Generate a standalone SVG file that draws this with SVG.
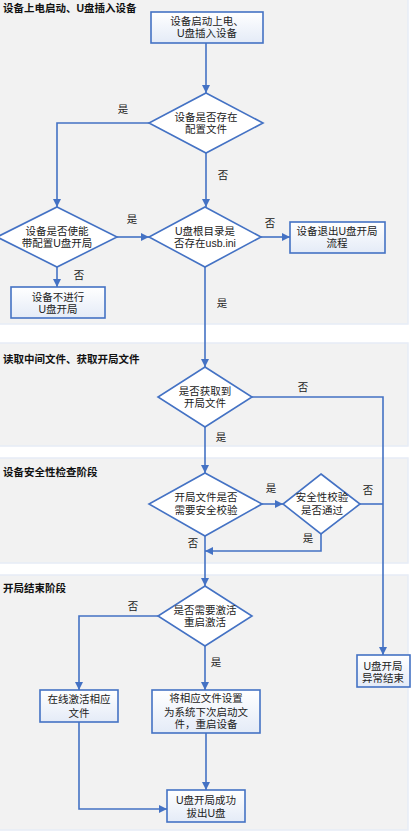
<svg xmlns="http://www.w3.org/2000/svg" width="412" height="832" viewBox="0 0 412 832">
<defs>
<linearGradient id="bf" x1="0" y1="0" x2="0" y2="1">
<stop offset="0" stop-color="#ffffff"/>
<stop offset="1" stop-color="#e4ebf7"/>
</linearGradient>
<marker id="ah" viewBox="0 0 10 10" refX="10" refY="5" markerWidth="8" markerHeight="8" markerUnits="userSpaceOnUse" orient="auto">
<path d="M0,0 L10,5 L0,10 z" fill="#4472c4"/>
</marker>
</defs>
<style>
.band{fill:#f2f2f2;stroke:#e6ecf6;stroke-width:1.5}
.box{fill:url(#bf);stroke:#4472c4;stroke-width:1.6}
.dia{fill:#ffffff;stroke:#4472c4;stroke-width:1.6}
.ln{fill:none;stroke:#4472c4;stroke-width:1.6}
.t{font-family:"Liberation Sans","Noto Sans CJK SC",sans-serif;font-size:10.5px;fill:#222;text-anchor:middle}
.h{font-family:"Liberation Sans","Noto Sans CJK SC",sans-serif;font-size:10.5px;font-weight:bold;fill:#111}
.lb{font-family:"Liberation Sans","Noto Sans CJK SC",sans-serif;font-size:10.5px;fill:#222;text-anchor:middle}
</style>
<rect width="412" height="832" fill="#ffffff"/>
<g id="bands">
<rect class="band" x="-2" y="-2" width="410" height="326"/>
<rect class="band" x="-2" y="343" width="410" height="103"/>
<rect class="band" x="-2" y="458" width="410" height="105"/>
<rect class="band" x="-2" y="575" width="410" height="255"/>
<text class="h" x="3" y="12">设备上电启动、U盘插入设备</text>
<text class="h" x="3" y="363">读取中间文件、获取开局文件</text>
<text class="h" x="3" y="476">设备安全性检查阶段</text>
<text class="h" x="3" y="592">开局结束阶段</text>
</g>
<g id="connectors">
<path class="ln" d="M206,43 V93" marker-end="url(#ah)"/>
<path class="ln" d="M149,123 H57 V207" marker-end="url(#ah)"/>
<path class="ln" d="M206,153 V207" marker-end="url(#ah)"/>
<path class="ln" d="M57,267 V287" marker-end="url(#ah)"/>
<path class="ln" d="M117,237 H149" marker-end="url(#ah)"/>
<path class="ln" d="M261,237 H290" marker-end="url(#ah)"/>
<path class="ln" d="M205,267 V367" marker-end="url(#ah)"/>
<path class="ln" d="M252,397 H383 V655" marker-end="url(#ah)"/>
<path class="ln" d="M205,427 V473" marker-end="url(#ah)"/>
<path class="ln" d="M262,504 H283" marker-end="url(#ah)"/>
<path class="ln" d="M360,504 H383"/>
<path class="ln" d="M321,534 V551 H205" marker-end="url(#ah)"/>
<path class="ln" d="M205,536 V586" marker-end="url(#ah)"/>
<path class="ln" d="M158,616 H79 V690" marker-end="url(#ah)"/>
<path class="ln" d="M205,646 V690" marker-end="url(#ah)"/>
<path class="ln" d="M206,733 V790" marker-end="url(#ah)"/>
<path class="ln" d="M79,722 V809 H167" marker-end="url(#ah)"/>
<text class="lb" x="123" y="113">是</text>
<text class="lb" x="223" y="179">否</text>
<text class="lb" x="132" y="223">是</text>
<text class="lb" x="270" y="227">否</text>
<text class="lb" x="79" y="279">否</text>
<text class="lb" x="222" y="307">是</text>
<text class="lb" x="303" y="391">否</text>
<text class="lb" x="221" y="441">是</text>
<text class="lb" x="271" y="492">是</text>
<text class="lb" x="368" y="494">否</text>
<text class="lb" x="308" y="542">是</text>
<text class="lb" x="193" y="547">否</text>
<text class="lb" x="133" y="610">否</text>
<text class="lb" x="216" y="666">是</text>
</g>
<g id="n1"><rect class="box" x="151" y="12" width="112" height="31"/><text class="t" x="207" y="25">设备启动上电、</text><text class="t" x="207" y="37">U盘插入设备</text></g>
<g id="n2"><path class="dia" d="M206,93 L263,123 L206,153 L149,123 z"/><text class="t" x="206" y="121">设备是否存在</text><text class="t" x="206" y="133">配置文件</text></g>
<g id="n3"><path class="dia" d="M57,207 L117,237 L57,267 L-3,237 z"/><text class="t" x="57" y="235">设备是否使能</text><text class="t" x="57" y="247">带配置U盘开局</text></g>
<g id="n4"><rect class="box" x="11" y="287" width="94" height="31"/><text class="t" x="58" y="301">设备不进行</text><text class="t" x="58" y="313">U盘开局</text></g>
<g id="n5"><path class="dia" d="M205,207 L261,237 L205,267 L149,237 z"/><text class="t" x="205" y="235">U盘根目录是</text><text class="t" x="205" y="247">否存在usb.ini</text></g>
<g id="n6"><rect class="box" x="290" y="222" width="95" height="31"/><text class="t" x="337" y="235">设备退出U盘开局</text><text class="t" x="337" y="247">流程</text></g>
<g id="n7"><path class="dia" d="M205,367 L252,397 L205,427 L158,397 z"/><text class="t" x="205" y="395">是否获取到</text><text class="t" x="205" y="407">开局文件</text></g>
<g id="n8"><path class="dia" d="M205,473 L262,504 L205,536 L149,504 z"/><text class="t" x="206" y="501">开局文件是否</text><text class="t" x="206" y="514">需要安全校验</text></g>
<g id="n9"><path class="dia" d="M321,474 L360,504 L321,534 L283,504 z"/><text class="t" x="322" y="501">安全性校验</text><text class="t" x="322" y="514">是否通过</text></g>
<g id="n10"><path class="dia" d="M205,586 L252,616 L205,646 L158,616 z"/><text class="t" x="205" y="614">是否需要激活</text><text class="t" x="205" y="626">重启激活</text></g>
<g id="n11"><rect class="box" x="40" y="690" width="78" height="32"/><text class="t" x="79" y="703">在线激活相应</text><text class="t" x="79" y="717">文件</text></g>
<g id="n12"><rect class="box" x="152" y="690" width="108" height="43"/><text class="t" x="206" y="702">将相应文件设置</text><text class="t" x="206" y="716">为系统下次启动文</text><text class="t" x="206" y="728">件，重启设备</text></g>
<g id="n13"><rect class="box" x="167" y="790" width="78" height="32"/><text class="t" x="206" y="804">U盘开局成功</text><text class="t" x="206" y="817">拔出U盘</text></g>
<g id="n14"><rect class="box" x="357" y="655" width="53" height="32"/><text class="t" x="383" y="670">U盘开局</text><text class="t" x="383" y="682">异常结束</text></g>
</svg>
